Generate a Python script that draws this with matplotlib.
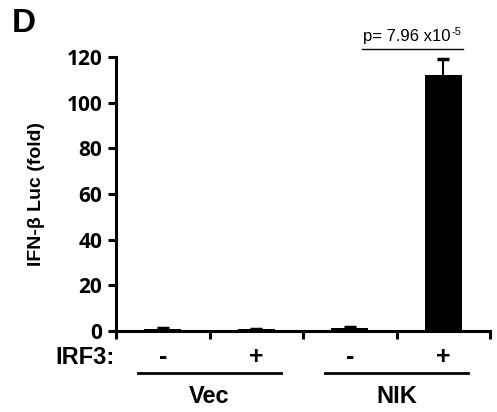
import matplotlib
matplotlib.use("Agg")
import matplotlib.pyplot as plt
import numpy as np

# data
groups = ["Vec", "NIK"]
irf3 = ["-", "+", "-", "+"]
values = [0.8, 0.7, 1.3, 112.3]
errors = [0.3, 0.3, 0.4, 7.0]
p_main = "p= 7.96 x10"
p_exp = "-5"

fig = plt.figure(figsize=(4.97, 4.12), dpi=100)
ax = fig.add_axes([0.2334, 0.1966, 0.7526, 0.665])

x = np.arange(len(values))
ax.bar(x, values, width=0.4, color="black", yerr=errors,
       error_kw=dict(ecolor="black", elinewidth=1.5, capsize=4, capthick=2.5))

ax.set_xlim(-0.5, len(values) - 0.5)
ax.set_ylim(0, 120)
ax.set_yticks(np.arange(0, 121, 20))
ax.set_xticks(np.arange(-0.5, len(values), 1.0))
ax.set_xticklabels([])
for s in ["top", "right"]:
    ax.spines[s].set_visible(False)
for s in ["left", "bottom"]:
    ax.spines[s].set_linewidth(2.2)
ax.tick_params(axis="both", width=2.2, length=6, direction="out")
ax.tick_params(axis="y", labelsize=15, pad=4)
for lab in ax.get_yticklabels():
    lab.set_fontweight("bold")
    lab.set_family("Open Sans")

ax.set_ylabel("IFN-β Luc (fold)", fontsize=14, fontweight="bold",
              family="Liberation Sans")
ax.yaxis.set_label_coords(-0.19, 0.5)

# IRF3 row and group lines below the axis
tr = ax.get_xaxis_transform()
fig.text(0.111, 1 - 358 / 412, "IRF3:", fontsize=17, fontweight="bold",
         family="Liberation Sans", ha="left", va="center")
for xi, s in zip(x, irf3):
    ax.text(xi, -0.095, s, transform=tr, ha="center", va="center",
            fontsize=18, fontweight="bold", family="Liberation Sans")
for gi, g in enumerate(groups):
    ax.plot([2 * gi - 0.26, 2 * gi + 1.26], [-0.155, -0.155], transform=tr,
            color="black", lw=2, clip_on=False)
    ax.text(2 * gi + 0.5, -0.24, g, transform=tr, ha="center", va="center",
            fontsize=17, fontweight="bold", family="Liberation Sans")

# significance annotation
ax.plot([2.13, 3.21], [123.5, 123.5], color="black", lw=1, clip_on=False)
t = ax.text(2.14, 125.5, p_main, ha="left", va="bottom", fontsize=12,
            family="Liberation Sans")
ax.annotate(p_exp, xy=(1, 0.5), xycoords=t, xytext=(0.5, 0),
            textcoords="offset points", ha="left", va="bottom", fontsize=8,
            family="Liberation Sans")

fig.text(0.024, 1 - 23 / 412, "D", fontsize=24, fontweight="bold",
         family="Liberation Sans", ha="left", va="center")

fig.savefig("out.png", dpi=100)
